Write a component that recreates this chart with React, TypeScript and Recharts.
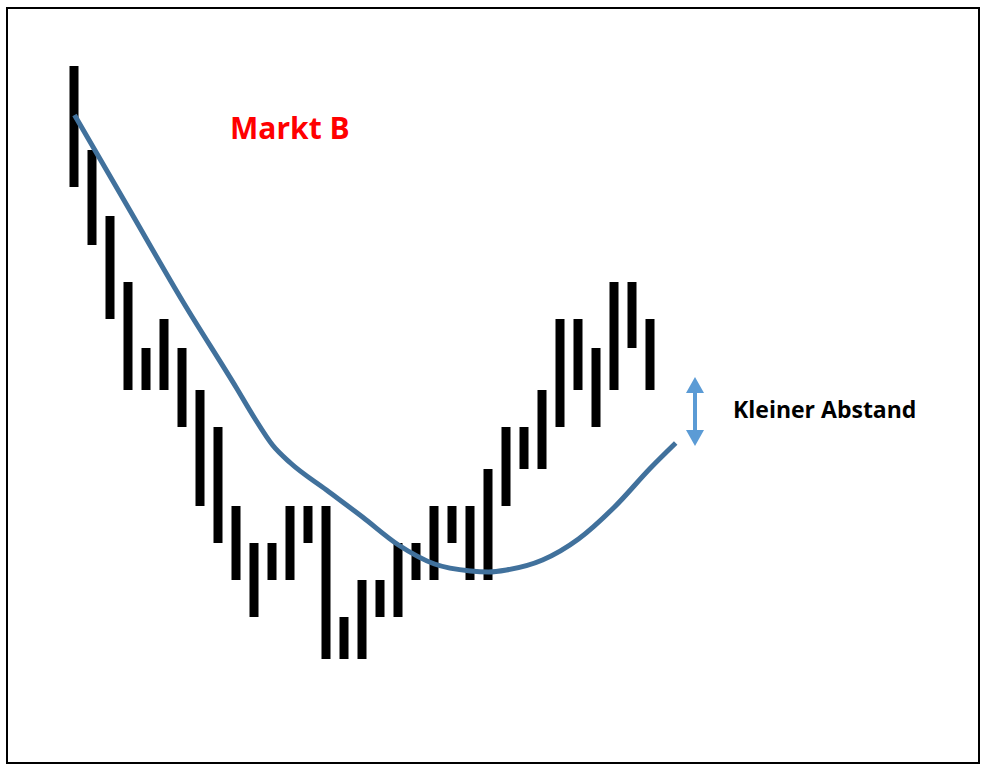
import { ComposedChart, Bar, Line, XAxis, YAxis } from 'recharts';

// price bars (one per period), low / high
const barIndex = [0, 1, 2, 3, 4, 5, 6, 7, 8, 9, 10, 11, 12, 13, 14, 15, 16, 17, 18, 19, 20, 21, 22, 23, 24, 25, 26, 27, 28, 29, 30, 31, 32];
const barHigh = [70.8, 62.4, 55.8, 49.2, 42.6, 45.5, 42.6, 38.4, 34.7, 26.8, 23.1, 23.1, 26.8, 26.8, 26.8, 15.7, 19.4, 19.4, 23.1, 23.1, 26.8, 26.8, 26.8, 30.5, 34.7, 34.7, 38.4, 45.5, 45.5, 42.6, 49.2, 49.2, 45.5];
const barLow = [58.7, 52.9, 45.5, 38.4, 38.4, 38.4, 34.7, 26.8, 23.1, 19.4, 15.7, 19.4, 19.4, 23.1, 11.5, 11.5, 11.5, 15.7, 15.7, 19.4, 19.4, 23.1, 19.4, 19.4, 26.8, 30.5, 30.5, 34.7, 38.4, 34.7, 38.4, 42.6, 38.4];

// smoothed trend curve
const curveX = [0, 3, 6, 9, 10, 11, 12, 14, 16, 18, 20, 22, 23, 24, 26, 28, 30, 32, 33.4];
const curveValue = [65.9, 56.6, 47.3, 38.6, 35.6, 32.9, 31.1, 28.4, 25.7, 22.9, 21.0, 20.3, 20.2, 20.4, 21.4, 23.5, 26.7, 30.6, 33.1];

const title = 'Markt B';
const note = 'Kleiner Abstand';

const bars = barIndex.map((x, i) => ({ x, range: [barLow[i], barHigh[i]] }));
const curve = curveX.map((x, i) => ({ x, v: curveValue[i] }));

// keep the bar 9px wide, centred on its slot
const RangeBar = (props: any) => {
    const { x, y, width, height } = props;
    if (height == null) return null;
    const cx = x + width / 2;
    return <rect x={cx - 4.5} y={y} width={9} height={height} fill="#000" />;
};

export default function App() {
    return (
        <div style={{ position: 'absolute', left: 0, top: 0, width: 991, height: 774, background: '#fff' }}>
            <ComposedChart width={991} height={774} data={bars}
                margin={{ top: 0, right: 16.5, bottom: 0, left: 74.5 }}>
                <XAxis dataKey="x" type="number" domain={[0, 50]} hide />
                <YAxis type="number" domain={[0, 77.4]} hide />
                <Bar dataKey="range" fill="#000" barSize={9} shape={RangeBar} isAnimationActive={false} />
                <Line data={curve} dataKey="v" type="monotone" stroke="#41719c" strokeWidth={5}
                    dot={false} activeDot={false} isAnimationActive={false} />
            </ComposedChart>
            <svg width={991} height={774} style={{ position: 'absolute', left: 0, top: 0, pointerEvents: 'none' }}>
                <rect x={7} y={8} width={972} height={755} fill="none" stroke="#000" strokeWidth={2} />
                <text x={230} y={139} fill="#ff0000" fontFamily="Open Sans" fontWeight="bold" fontSize={30}>{title}</text>
                <text x={733} y={418} fill="#000" fontFamily="Open Sans" fontWeight="bold" fontSize={23}>{note}</text>
                {/* double-headed arrow */}
                <line x1={695} y1={390} x2={695} y2={433} stroke="#5b9bd5" strokeWidth={4} />
                <polygon points="695,377 704,393 686,393" fill="#5b9bd5" />
                <polygon points="695,446 704,430 686,430" fill="#5b9bd5" />
            </svg>
        </div>
    );
}
